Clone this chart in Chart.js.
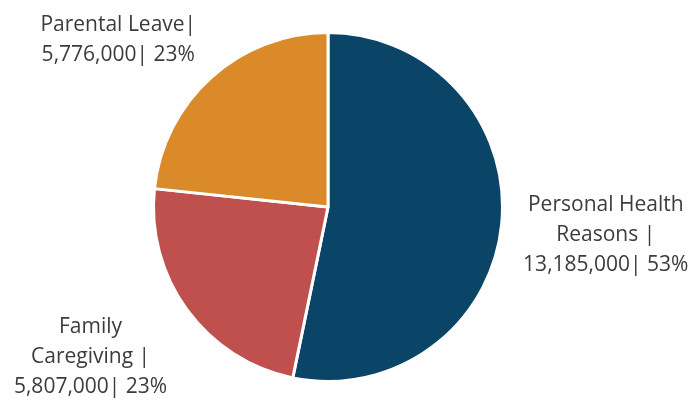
<!DOCTYPE html>
<html lang="en">
<head>
    <meta charset="UTF-8">
    <title>Leave Reasons</title>
    <script src="https://cdn.jsdelivr.net/npm/chart.js"></script>
    <style>
        body { margin: 0; background: #ffffff; }
        .chart-container { width: 694px; height: 400px; }
    </style>
</head>
<body>
    <div class="chart-container">
        <canvas id="chart"></canvas>
    </div>

    <script>
        // label lines for each category (wrapped as in the original)
        const categories = [
            ['Personal Health', 'Reasons |'],
            ['Family', 'Caregiving |'],
            ['Parental Leave|']
        ];
        const values = [13185000, 5807000, 5776000];
        const colors = ['#0A4567', '#C0504D', '#DA8A29'];

        const total = values.reduce((a, b) => a + b, 0);

        // nudges for the outside labels, relative to the mid-angle anchor
        const labelNudge = [
            { dist: 1.6, dx: 0, dy: 0 },
            { dist: 1.6, dx: -12, dy: -15 },
            { dist: 1.6, dx: -23, dy: 41 }
        ];

        const outsideLabels = {
            id: 'outsideLabels',
            afterDatasetsDraw(chart) {
                const ctx = chart.ctx;
                const meta = chart.getDatasetMeta(0);
                ctx.save();
                ctx.font = '21px "Open Sans", sans-serif';
                ctx.fillStyle = '#3c3c3c';
                ctx.textAlign = 'center';
                ctx.textBaseline = 'middle';
                const lineH = 30;
                meta.data.forEach((arc, i) => {
                    const mid = (arc.startAngle + arc.endAngle) / 2;
                    const n = labelNudge[i];
                    const r = arc.outerRadius * n.dist;
                    const cx = arc.x + Math.cos(mid) * r + n.dx;
                    const cy = arc.y + Math.sin(mid) * r + n.dy;
                    const pct = Math.round(values[i] / total * 100);
                    const lines = categories[i].slice();
                    lines.push(values[i].toLocaleString('en-US') + '| ' + pct + '%');
                    const top = cy - (lines.length - 1) * lineH / 2;
                    lines.forEach((t, k) => ctx.fillText(t, cx, top + k * lineH));
                });
                ctx.restore();
            }
        };

        new Chart('chart', {
            type: 'pie',
            data: {
                labels: categories.map(c => c.join(' ')),
                datasets: [{
                    data: values,
                    backgroundColor: colors,
                    borderColor: '#ffffff',
                    borderWidth: 3
                }]
            },
            options: {
                responsive: true,
                maintainAspectRatio: false,
                animation: false,
                layout: {
                    padding: { top: 31, bottom: 17, left: 0, right: 38 }
                },
                plugins: {
                    legend: { display: false },
                    tooltip: { enabled: false }
                }
            },
            plugins: [outsideLabels]
        });
    </script>
</body>
</html>
